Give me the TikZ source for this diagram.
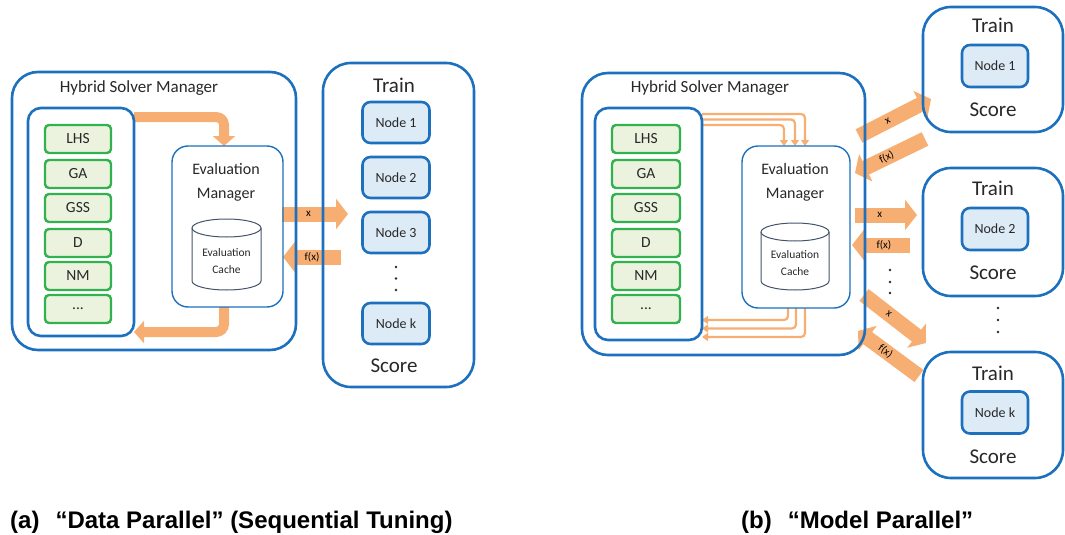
\documentclass[tikz,border=0pt]{standalone}
\usepackage{fontspec}
\setmainfont{Carlito}
\newfontfamily\capfont{Liberation Sans}
\usetikzlibrary{arrows.meta,calc}
\pgfdeclarelayer{bg}
\pgfsetlayers{bg,main}
\definecolor{bblue}{RGB}{28,112,190}
\definecolor{nfill}{RGB}{221,235,247}
\definecolor{ggreen}{RGB}{50,178,78}
\definecolor{gfill}{RGB}{235,243,222}
\definecolor{orng}{RGB}{247,174,115}
\definecolor{cylc}{RGB}{68,84,106}
\definecolor{txt}{RGB}{40,40,40}
\tikzset{
  fs/.style={font=\fontsize{#1}{#1}\selectfont},
  bx/.style={rectangle, outer sep=0pt, inner sep=0pt},
  hsm/.style={bx, draw=bblue, line width=2.6pt, rounded corners=26pt},
  listbox/.style={bx, draw=bblue, line width=2.6pt, rounded corners=13pt},
  evalbox/.style={bx, draw=bblue, line width=1.4pt, rounded corners=16pt},
  trainbox/.style={bx, draw=bblue, line width=2.6pt, rounded corners=28pt},
  alg/.style={bx, draw=ggreen, fill=gfill, line width=2.4pt, rounded corners=4pt,
    minimum height=28pt, text=txt, fs=15.5},
  worker/.style={bx, draw=bblue, fill=nfill, line width=2.6pt, rounded corners=8pt,
    minimum width=67pt, minimum height=41pt, text=txt, fs=14},
  lab/.style={text=txt, inner sep=0pt},
  cylstyle/.style={draw=cylc, line width=1pt},
  blk/.style={orng, line width=15pt, -{Triangle[width=30pt,length=12pt]}},
  fatarr/.style={orng, line width=10pt, rounded corners=8pt, -{Triangle[width=22pt,length=10pt]}},
  thinarr/.style={orng, line width=2.2pt, rounded corners=4pt, -{Triangle[width=8pt,length=6pt]}},
  alab/.style={text=black, fs=11, inner sep=0pt},
}
\begin{document}
\begin{tikzpicture}[x=1pt,y=-1pt]
\useasboundingbox (0,0) rectangle (1065,535);

%================ (a) ================
\node[hsm, minimum width=284pt, minimum height=278pt] (hsmA) at (154,211) {};
\node[lab, fs=17] (hsmAl) at (139,88) {Hybrid Solver Manager};
\node[listbox, minimum width=106pt, minimum height=228pt] (listA) at (81,222) {};
\node[alg, minimum width=66pt] (a1) at (78,139) {LHS};
\node[alg, minimum width=66pt] (a2) at (78,174) {GA};
\node[alg, minimum width=66pt] (a3) at (78,208) {GSS};
\node[alg, minimum width=66pt] (a4) at (78,243) {D};
\node[alg, minimum width=66pt] (a5) at (78,276) {NM};
\node[alg, minimum width=66pt] (a6) at (78,309) {...};
\node[evalbox, minimum width=111pt, minimum height=161pt] (evalA) at (227.5,226.5) {};
\node[lab, align=center, font=\fontsize{16}{24}\selectfont] (evalAl) at (226,182) {Evaluation\\Manager};
\draw[cylstyle] (192,228) -- (192,281) arc[start angle=180,end angle=360,x radius=34.5pt,y radius=9pt] -- (261,228);
\draw[cylstyle] (226.5,228) ellipse [x radius=34.5pt, y radius=9pt];
\node[lab, align=center, font=\fontsize{11.5}{17}\selectfont] (cacheA) at (226.5,261) {Evaluation\\Cache};

\node[trainbox, minimum width=151pt, minimum height=324pt] (trainA) at (398.5,225) {};
\node[lab, fs=21] (trainAl) at (394,85) {Train};
\node[worker] (n1) at (396,122.5) {Node 1};
\node[worker] (n2) at (396,177.5) {Node 2};
\node[worker] (n3) at (396,232.5) {Node 3};
\node[worker] (nk) at (396,323.5) {Node k};
\fill[txt] (396,267) circle[radius=1.3pt] (396,278.5) circle[radius=1.3pt] (396,290) circle[radius=1.3pt];
\node[lab, fs=21] (scoreA) at (394,366) {Score};

\coordinate (xa0) at (282,214); \coordinate (xa1) at (348,214);
\coordinate (fa0) at (341,257); \coordinate (fa1) at (283,257);

\begin{pgfonlayer}{bg}
\draw[fatarr] (listA.east |- 0,117) -| (evalA.north -| 224,0);
\draw[fatarr] (evalA.south -| 224,0) |- (listA.east |- 0,332);
\draw[blk] (xa0) -- node[alab, pos=0.4] {x} (xa1);
\draw[blk] (fa0) -- node[alab, pos=0.5] {f(x)} (fa1);
\end{pgfonlayer}

%================ (b) ================
\node[hsm, minimum width=283pt, minimum height=282pt] (hsmB) at (723.5,214) {};
\node[lab, fs=17] (hsmBl) at (710,88) {Hybrid Solver Manager};
\node[listbox, minimum width=107pt, minimum height=232pt] (listB) at (648.5,224) {};
\node[alg, minimum width=68pt] (b1) at (646,139) {LHS};
\node[alg, minimum width=68pt] (b2) at (646,174) {GA};
\node[alg, minimum width=68pt] (b3) at (646,208) {GSS};
\node[alg, minimum width=68pt] (b4) at (646,243) {D};
\node[alg, minimum width=68pt] (b5) at (646,276) {NM};
\node[alg, minimum width=68pt] (b6) at (646,309) {...};
\node[evalbox, minimum width=108pt, minimum height=162pt] (evalB) at (796,227) {};
\node[lab, align=center, font=\fontsize{16}{24}\selectfont] (evalBl) at (795,182) {Evaluation\\Manager};
\draw[cylstyle] (761,232) -- (761,281) arc[start angle=180,end angle=360,x radius=34pt,y radius=9pt] -- (829,232);
\draw[cylstyle] (795,232) ellipse [x radius=34pt, y radius=9pt];
\node[lab, align=center, font=\fontsize{11.5}{17}\selectfont] (cacheB) at (795,263) {Evaluation\\Cache};

\node[trainbox, minimum width=140pt, minimum height=125pt] (t1) at (993,69.5) {};
\node[lab, fs=21] (t1l) at (993,25) {Train};
\node[worker, minimum width=66pt, minimum height=42pt] (m1) at (995,66) {Node 1};
\node[lab, fs=21] (t1s) at (993,110) {Score};

\node[trainbox, minimum width=140pt, minimum height=128pt] (t2) at (993,232) {};
\node[lab, fs=21] (t2l) at (993,188) {Train};
\node[worker, minimum width=66pt, minimum height=42pt] (m2) at (995,229) {Node 2};
\node[lab, fs=21] (t2s) at (993,273) {Score};

\node[trainbox, minimum width=140pt, minimum height=126pt] (tk) at (993,415) {};
\node[lab, fs=21] (tkl) at (993,373) {Train};
\node[worker, minimum width=66pt, minimum height=42pt] (mk) at (995,412.5) {Node k};
\node[lab, fs=21] (tks) at (993,457) {Score};

\fill[txt] (998,308) circle[radius=1.3pt] (998,320) circle[radius=1.3pt] (998,332) circle[radius=1.3pt];
\fill[txt] (890,270) circle[radius=1.3pt] (890,282) circle[radius=1.3pt] (890,293) circle[radius=1.3pt];

\coordinate (x10) at (859,136); \coordinate (x11) at (931,99);
\coordinate (f10) at (925,139); \coordinate (f11) at (855,173);
\coordinate (x20) at (855,215); \coordinate (x21) at (917,215);
\coordinate (f20) at (910,245); \coordinate (f21) at (852,245);
\coordinate (x30) at (864,295); \coordinate (x31) at (926,343);
\coordinate (f30) at (919,376); \coordinate (f31) at (858,331);

\begin{pgfonlayer}{bg}
\draw[thinarr] (listB.east |- 0,114) -| (evalB.north -| 805,0);
\draw[thinarr] (listB.east |- 0,119.5) -| (evalB.north -| 795,0);
\draw[thinarr] (listB.east |- 0,125) -| (evalB.north -| 784,0);
\draw[thinarr] (evalB.south -| 788,0) |- (listB.east |- 0,320);
\draw[thinarr] (evalB.south -| 796,0) |- (listB.east |- 0,328.5);
\draw[thinarr] (evalB.south -| 805,0) |- (listB.east |- 0,337);
\draw[blk] (x10) -- node[alab, sloped, pos=0.4] {x} (x11);
\draw[blk] (f10) -- node[alab, sloped, pos=0.55] {f(x)} (f11);
\draw[blk] (x20) -- node[alab, pos=0.4] {x} (x21);
\draw[blk] (f20) -- node[alab, pos=0.45] {f(x)} (f21);
\draw[blk] (x30) -- node[alab, sloped, pos=0.4] {x} (x31);
\draw[blk] (f30) -- node[alab, sloped, pos=0.55] {f(x)} (f31);
\end{pgfonlayer}

%================ captions ================
\node[anchor=base west, inner sep=0pt, font=\capfont\bfseries\fontsize{24}{24}\selectfont] (capA) at (10,528) {(a)\hspace{16pt}“Data Parallel” (Sequential Tuning)};
\node[anchor=base west, inner sep=0pt, font=\capfont\bfseries\fontsize{24}{24}\selectfont] (capB) at (741,528) {(b)\hspace{16pt}“Model Parallel”};
\end{tikzpicture}
\end{document}
